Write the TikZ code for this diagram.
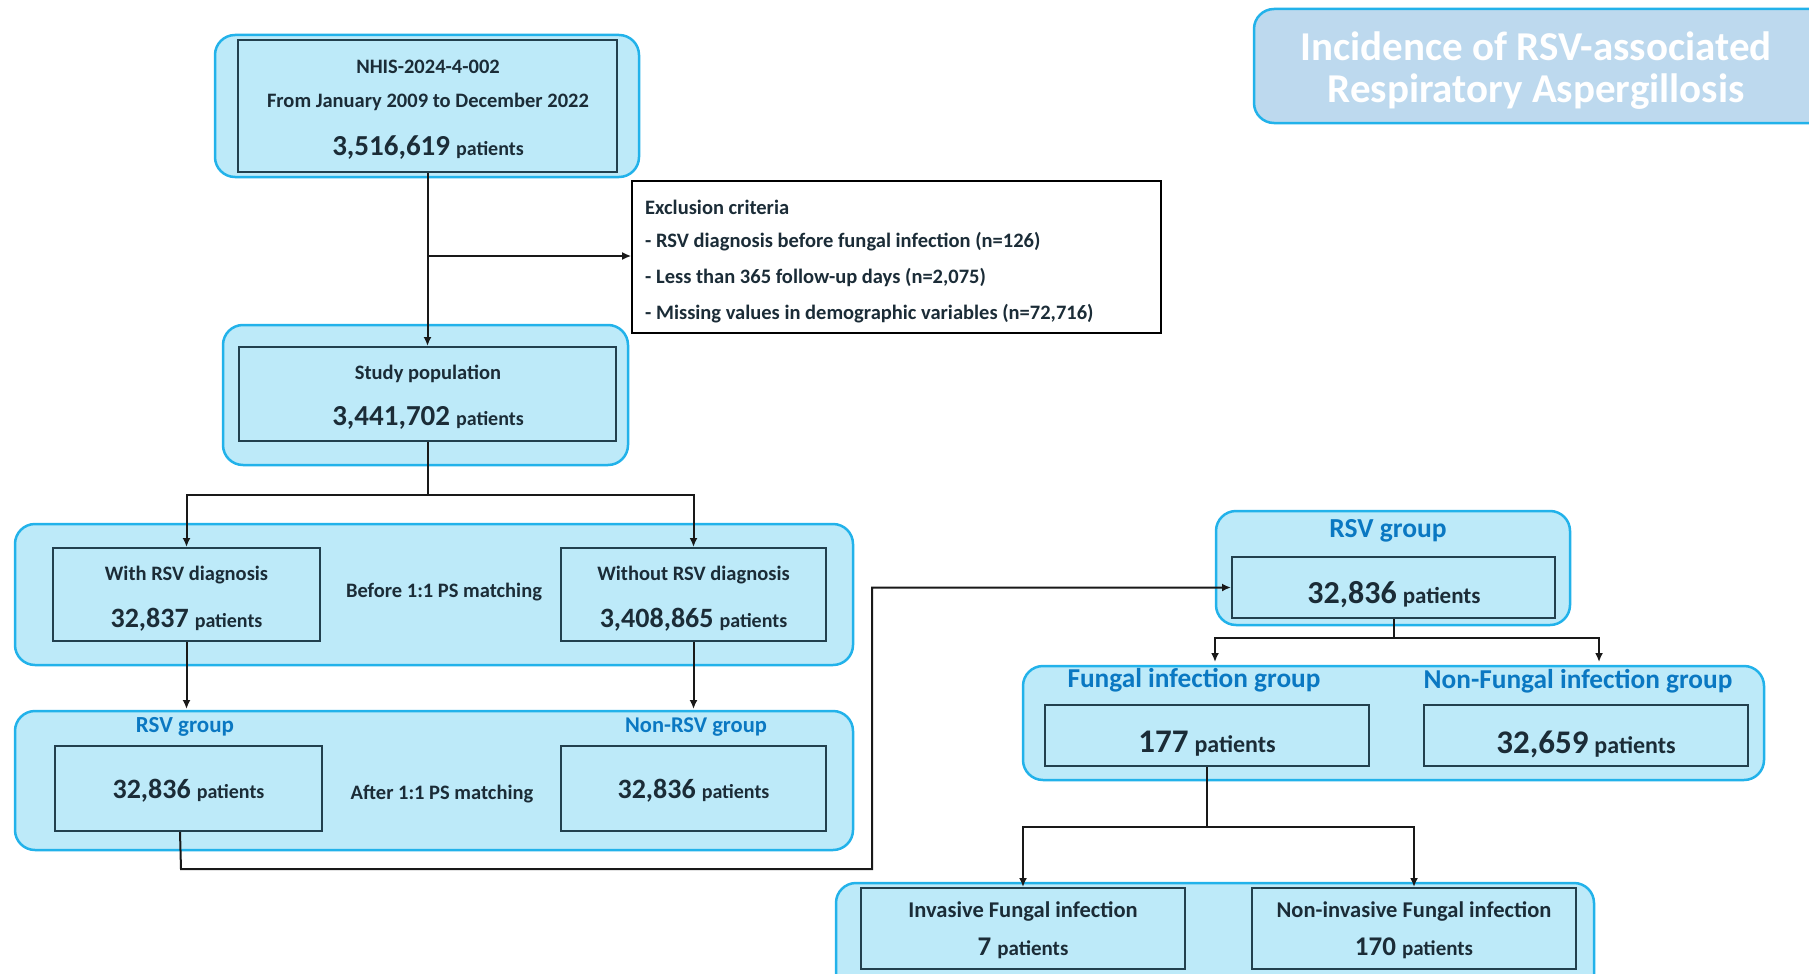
\documentclass[tikz,border=0pt]{standalone}
\usepackage{fontspec}
\setmainfont{Carlito}
\usetikzlibrary{arrows.meta}
\definecolor{cfill}{HTML}{BDEAF9}
\definecolor{cborder}{HTML}{22B2EA}
\definecolor{idark}{HTML}{22404E}
\definecolor{tdark}{HTML}{1B2C37}
\definecolor{lblue}{HTML}{0A78C2}
\definecolor{tfill}{HTML}{BDD9EE}
\newcommand\fs[2]{{\fontsize{#1}{#1}\selectfont #2}}
\newcommand\np[4]{\fs{#1}{#2}\hspace{6pt}\fs{#3}{#4}}
\newcommand\bx[6]{\node[#1, inner sep=0pt, minimum width={(#4-#2)*1pt}, minimum height={(#5-#3)*1pt}] (#6) at ({(#2+#4)/2},{(#3+#5)/2}) {};}
\tikzset{
  cont/.style={draw=cborder, fill=cfill, line width=2.5pt, rounded corners=20pt},
  titlebox/.style={draw=cborder, fill=tfill, line width=2.5pt, rounded corners=20pt},
  inbox/.style={draw=idark, line width=2pt},
  exbox/.style={draw=black, fill=white, line width=1.6pt},
  txt/.style={text=tdark, inner sep=0pt, font=\bfseries},
  lbl/.style={text=lblue, inner sep=0pt, font=\bfseries},
  ttl/.style={text=white, inner sep=0pt, font=\bfseries},
  line/.style={draw=black!90, line width=2pt},
  conn/.style={line, -{Latex[length=9pt,width=8pt]}}
}
\begin{document}
\begin{tikzpicture}[x=1pt,y=-1pt]
\clip (0,0) rectangle (1809,974);
\fill[white] (0,0) rectangle (1809,974);

% title
\bx{titlebox}{1254}{9}{1850}{123}{tt}
\node[ttl, anchor=base] (tt1) at (1536,60) {\fs{41}{Incidence of RSV-associated}};
\node[ttl, anchor=base] (tt2) at (1536,102) {\fs{41}{Respiratory Aspergillosis}};

% top
\bx{cont}{215}{35}{639}{177}{c0}
\bx{inbox}{238}{40}{617}{172}{top}
\node[txt] (t1) at (428,67) {\fs{20.5}{NHIS-2024-4-002}};
\node[txt] (t2) at (428,102) {\fs{20.5}{From January 2009 to December 2022}};
\node[txt] (t3) at (428,148) {\np{29}{3,516,619}{20}{patients}};

% exclusion
\bx{exbox}{632}{181}{1161}{333}{excl}
\node[txt, anchor=west] (e1) at (645,207) {\fs{20.5}{Exclusion criteria}};
\node[txt, anchor=west] (e2) at (645,242) {\fs{20.5}{- RSV diagnosis before fungal infection (n=126)}};
\node[txt, anchor=west] (e3) at (645,278) {\fs{20.5}{- Less than 365 follow-up days (n=2,075)}};
\node[txt, anchor=west] (e4) at (645,314) {\fs{20.5}{- Missing values in demographic variables (n=72,716)}};

% study population
\bx{cont}{223}{325}{628}{465}{c1}
\bx{inbox}{239}{347}{616}{441}{study}
\node[txt] (s1t) at (428,374) {\fs{20.5}{Study population}};
\node[txt] (s2t) at (428,418) {\np{29}{3,441,702}{20}{patients}};

% before matching
\bx{cont}{15}{524}{853}{665}{c2}
\bx{inbox}{53}{548}{320}{641}{with}
\bx{inbox}{561}{548}{826}{641}{without}
\node[txt] (w1) at (186.5,575) {\fs{20.5}{With RSV diagnosis}};
\node[txt] (w2) at (186.5,620) {\np{28}{32,837}{20}{patients}};
\node[txt] (wo1) at (693.5,575) {\fs{20.5}{Without RSV diagnosis}};
\node[txt] (wo2) at (693.5,620) {\np{28}{3,408,865}{20}{patients}};
\node[txt] (bm) at (444,592) {\fs{20.5}{Before 1:1 PS matching}};

% after matching
\bx{cont}{15}{711}{853}{850}{c3}
\node[lbl] (l1) at (185,727) {\fs{23}{RSV group}};
\node[lbl] (l2) at (696,727) {\fs{22.5}{Non-RSV group}};
\bx{inbox}{55}{746}{322}{831}{rsvA}
\bx{inbox}{561}{746}{826}{831}{nonrsv}
\node[txt] (a1) at (188.5,791) {\np{28}{32,836}{20}{patients}};
\node[txt] (a2) at (693.5,791) {\np{28}{32,836}{20}{patients}};
\node[txt] (am) at (442,794) {\fs{20.5}{After 1:1 PS matching}};

% right RSV group
\bx{cont}{1216}{511}{1570}{625}{c4}
\node[lbl] (l3) at (1388,531) {\fs{27.5}{RSV group}};
\bx{inbox}{1232}{557}{1555}{618}{rsvB}
\node[txt] (b1) at (1394,595) {\np{32}{32,836}{23}{patients}};

% fungal groups
\bx{cont}{1023}{666}{1764}{780}{c5}
\node[lbl] (l4) at (1194,680) {\fs{27.3}{Fungal infection group}};
\node[lbl] (l5) at (1578,681) {\fs{27.3}{Non-Fungal infection group}};
\bx{inbox}{1045}{705}{1369}{766}{fung}
\bx{inbox}{1424}{705}{1748}{766}{nonfung}
\node[txt] (f1t) at (1207,744) {\np{33}{177}{24}{patients}};
\node[txt] (f2t) at (1586,744) {\np{33}{32,659}{24}{patients}};

% bottom
\bx{cont}{836}{883}{1594}{1020}{c6}
\bx{inbox}{861}{888}{1185}{969}{inv}
\bx{inbox}{1252}{888}{1576}{969}{noninv}
\node[txt] (i1) at (1023,911) {\fs{22.5}{Invasive Fungal infection}};
\node[txt] (i2) at (1023,948) {\np{27}{7}{21}{patients}};
\node[txt] (n1) at (1414,911) {\fs{22.5}{Non-invasive Fungal infection}};
\node[txt] (n2) at (1414,948) {\np{27}{170}{21}{patients}};

% connectors
\coordinate (j0) at (427.5,256);
\draw[conn] (top.south) -- (study.north);
\draw[conn] (j0) -- (excl.west |- j0);
\coordinate (sp) at (427.5,495);
\draw[line] (study.south) -- (sp);
\draw[conn] (sp) -| (with.north);
\draw[conn] (sp) -| (without.north);
\coordinate (wa) at (186.5,709);
\coordinate (wb) at (693.5,709);
\draw[conn] (with.south) -- (wa);
\draw[conn] (without.south) -- (wb);
\coordinate (m1) at (181,869);
\coordinate (m2) at (872,869);
\draw[conn] ([xshift=126pt]rsvA.south west) -- (m1) -- (m2) |- (rsvB.west);
\coordinate (r1) at (1393.5,638);
\coordinate (fa) at (1215,662);
\coordinate (fb) at (1599,662);
\draw[line] (rsvB.south) -- (r1);
\draw[conn] (r1) -| (fa);
\draw[conn] (r1) -| (fb);
\coordinate (q1) at (1207,827);
\draw[line] (fung.south) -- (q1);
\draw[conn] (q1) -| (inv.north);
\draw[conn] (q1) -| (noninv.north);
\end{tikzpicture}
\end{document}
